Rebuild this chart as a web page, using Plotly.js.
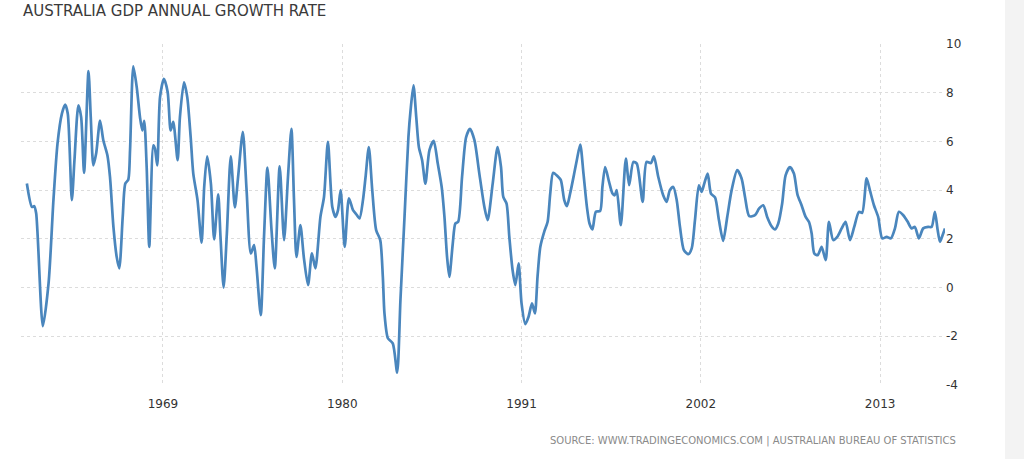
<!DOCTYPE html>
<html>
<head>
<meta charset="utf-8">
<script src="https://cdn.plot.ly/plotly-3.0.1.min.js"></script>
<style>
  html, body { margin: 0; padding: 0; background: #ffffff; }
  #chart { width: 1024px; height: 459px; }
</style>
</head>
<body>
<div id="chart"></div>
<script>
// Decimal years of the traced vertices
const years = [
  1960.65, 1960.96, 1961.10, 1961.22, 1961.63, 1961.98, 1962.28, 1962.53, 1962.80, 1963.00,
  1963.16, 1963.41, 1963.57, 1963.81, 1963.98, 1964.16, 1964.43, 1964.57, 1964.73, 1964.90,
  1965.14, 1965.34, 1965.59, 1965.75, 1965.96, 1966.16, 1966.32, 1966.53, 1966.69, 1966.87,
  1966.98, 1967.18, 1967.39, 1967.59, 1967.73, 1967.85, 1968.00, 1968.16, 1968.41, 1968.51,
  1968.65, 1968.82, 1969.06, 1969.29, 1969.47, 1969.63, 1969.90,
  1970.04, 1970.29, 1970.49, 1970.70, 1970.86, 1971.12, 1971.37, 1971.53, 1971.71, 1971.94,
  1972.14, 1972.39, 1972.53, 1972.72, 1972.92, 1973.16, 1973.41, 1973.61, 1973.90, 1974.13,
  1974.39, 1974.59, 1974.74, 1975.00, 1975.20, 1975.41, 1975.66, 1975.86, 1976.16, 1976.43,
  1976.67, 1976.88, 1977.04, 1977.19, 1977.43, 1977.65, 1977.90, 1978.14, 1978.35, 1978.66,
  1978.88, 1979.12,
  1979.39, 1979.59, 1979.74, 1979.90, 1980.15, 1980.41, 1980.66, 1980.86, 1981.06, 1981.27,
  1981.43, 1981.63, 1981.84, 1982.08, 1982.33, 1982.49, 1982.59, 1982.80, 1983.10, 1983.37,
  1983.57, 1983.82, 1984.06, 1984.19, 1984.37, 1984.54, 1984.70, 1984.90, 1985.10, 1985.35,
  1985.61, 1985.86, 1986.10, 1986.27, 1986.43, 1986.57, 1986.78, 1986.94, 1987.11, 1987.35,
  1987.60, 1987.84, 1988.11, 1988.41, 1988.72, 1988.92,
  1989.23, 1989.53, 1989.74, 1989.88, 1990.08, 1990.25, 1990.45, 1990.62, 1990.82, 1991.00,
  1991.23, 1991.43, 1991.64, 1991.82, 1991.98, 1992.15, 1992.39, 1992.60, 1992.76, 1992.94,
  1993.21, 1993.41, 1993.62, 1993.78, 1993.98, 1994.23, 1994.39, 1994.60, 1994.80, 1995.01,
  1995.17, 1995.35, 1995.56, 1995.82, 1995.96, 1996.13, 1996.37, 1996.58, 1996.72, 1996.84,
  1997.09, 1997.40, 1997.60, 1997.86, 1998.07,
  1998.43, 1998.67, 1998.94, 1999.12, 1999.39, 1999.69, 1999.90, 2000.10, 2000.31, 2000.52,
  2000.72, 2000.96, 2001.23, 2001.44, 2001.64, 2001.88, 2002.05, 2002.21, 2002.42, 2002.62,
  2002.87, 2003.11, 2003.37, 2003.62, 2003.89, 2004.23, 2004.50, 2004.71, 2004.97, 2005.32,
  2005.58, 2005.83, 2006.07, 2006.34, 2006.55, 2006.75, 2006.99, 2007.20, 2007.47, 2007.71,
  2007.93, 2008.18, 2008.43, 2008.63, 2008.80, 2008.96, 2009.17, 2009.41, 2009.66, 2009.86,
  2010.12, 2010.37, 2010.64, 2010.88, 2011.15, 2011.41, 2011.70, 2011.90, 2012.17, 2012.37,
  2012.62, 2012.88, 2013.13, 2013.40, 2013.66, 2013.91, 2014.15, 2014.42, 2014.69, 2014.93,
  2015.13, 2015.38, 2015.64, 2015.95, 2016.16, 2016.36, 2016.53, 2016.67, 2016.83, 2016.98
];

// GDP annual growth rate (%)
const gdpGrowth = [
  4.27, 3.31, 3.34, 3.05, -1.58, 0.17, 3.59, 5.91, 7.14, 7.51,
  7.14, 3.59, 5.23, 7.48, 7.00, 4.71, 8.89, 7.00, 5.02, 5.50,
  6.86, 6.05, 5.43, 4.54, 2.49, 1.26, 0.79, 2.90, 4.27, 4.43,
  5.64, 9.08, 8.23, 7.00, 6.45, 6.84, 4.95, 1.67, 5.84, 5.70,
  5.02, 7.82, 8.57, 8.02, 6.45, 6.80, 5.23,
  7.00, 8.43, 7.82, 6.18, 4.68, 3.59, 1.84, 4.13, 5.39, 4.27,
  1.98, 3.83, 2.08, 0.00, 2.22, 5.39, 3.29, 4.54, 6.39, 4.00,
  1.40, 1.74, 0.85, -1.13, 2.08, 4.93, 2.36, 0.79, 4.98, 1.95,
  4.54, 6.52, 3.59, 1.26, 2.56, 1.20, 0.10, 1.40, 0.79, 2.90,
  3.72, 5.98,
  3.31, 2.90, 3.18, 4.00, 1.67, 3.66, 3.18, 3.01, 2.84, 3.59,
  4.54, 5.77, 4.00, 2.36, 1.95, 0.44, -1.06, -2.08, -2.29, -3.49,
  -0.51, 2.90, 6.18, 7.27, 8.30, 7.00, 5.77, 5.23, 4.27, 5.64,
  6.02, 5.09, 4.13, 2.90, 1.26, 0.44, 1.81, 2.63, 2.70, 4.54,
  6.18, 6.52, 6.05, 4.68, 3.31, 2.77,
  4.27, 5.77, 4.95, 3.72, 3.45, 2.08, 0.72, 0.10, 0.99, -0.65,
  -1.50, -1.20, -0.65, -1.06, 0.44, 1.67, 2.29, 2.70, 3.86, 4.71,
  4.57, 4.41, 3.59, 3.34, 3.86, 4.68, 5.23, 5.87, 4.68, 3.31,
  2.63, 2.39, 3.11, 3.14, 4.13, 4.95, 4.34, 3.86, 3.79, 4.00,
  2.56, 5.30, 4.20, 5.16, 5.09,
  3.52, 5.16, 5.11, 5.39, 4.54, 3.79, 3.52, 4.00, 4.13, 3.59,
  2.49, 1.54, 1.37, 1.61, 2.77, 4.20, 3.93, 4.27, 4.68, 3.86,
  3.70, 2.77, 1.92, 2.90, 4.00, 4.82, 4.48, 3.72, 2.93, 2.97,
  3.25, 3.38, 2.90, 2.52, 2.39, 2.63, 3.45, 4.61, 4.95, 4.68,
  3.82, 3.38, 2.90, 2.70, 2.22, 1.40, 1.33, 1.67, 1.13, 2.70,
  1.95, 2.08, 2.43, 2.70, 1.95, 2.49, 3.11, 3.07, 4.48, 4.00,
  3.38, 2.90, 2.02, 2.08, 2.02, 2.43, 3.11, 2.97, 2.70, 2.43,
  2.49, 2.02, 2.43, 2.49, 2.49, 3.11, 2.36, 1.88, 2.15, 2.43
];

const xTickVals = [1969, 1980, 1991, 2002, 2013];
const xTickText = ['1969', '1980', '1991', '2002', '2013'];
const yTickVals = [-4, -2, 0, 2, 4, 6, 8, 10];
const yTickText = ['-4', '-2', '0', '2', '4', '6', '8', '10'];

const trace = {
  x: years,
  y: gdpGrowth,
  type: 'scatter',
  mode: 'lines',
  line: { color: '#4a86bd', width: 2.7, shape: 'spline', smoothing: 0.7 },
  hoverinfo: 'x+y'
};

const layout = {
  width: 1024,
  height: 459,
  margin: { l: 21, r: 79, t: 44, b: 74 },
  paper_bgcolor: '#ffffff',
  plot_bgcolor: '#ffffff',
  showlegend: false,
  font: { family: 'DejaVu Sans, Verdana, sans-serif', color: '#333333', size: 12 },
  title: {
    text: 'AUSTRALIA GDP ANNUAL GROWTH RATE',
    font: { family: 'DejaVu Sans, Verdana, sans-serif', size: 15, color: '#3a3a3a' },
    xref: 'container', yref: 'container',
    x: 23 / 1024, xanchor: 'left',
    y: 1 - 11 / 459, yanchor: 'middle'
  },
  xaxis: {
    range: [1960.29, 2016.98],
    tickmode: 'array',
    tickvals: xTickVals,
    ticktext: xTickText,
    showgrid: true,
    gridcolor: '#dcdcdc',
    griddash: 'dot',
    gridwidth: 1,
    zeroline: false,
    showline: false,
    ticks: '',
    ticklabelstandoff: 10,
    tickfont: { size: 12, color: '#333333' }
  },
  yaxis: {
    side: 'right',
    range: [-4, 10],
    tickmode: 'array',
    tickvals: yTickVals,
    ticktext: yTickText,
    showgrid: true,
    gridcolor: '#dcdcdc',
    griddash: 'dot',
    gridwidth: 1,
    zeroline: false,
    showline: false,
    ticks: '',
    tickfont: { size: 12, color: '#333333' }
  },
  annotations: [{
    text: 'SOURCE: WWW.TRADINGECONOMICS.COM | AUSTRALIAN BUREAU OF STATISTICS',
    xref: 'paper', yref: 'paper',
    x: (958 - 21) / 924, xanchor: 'right',
    y: (385 - 441) / 341, yanchor: 'middle',
    showarrow: false,
    font: { family: 'DejaVu Sans, Verdana, sans-serif', size: 10, color: '#8a8a8a' }
  }],
  shapes: [{
    type: 'rect', xref: 'paper', yref: 'paper',
    x0: (1005 - 21) / 924, x1: (1024 - 21) / 924,
    y0: (385 - 459) / 341, y1: (385 - 0) / 341,
    fillcolor: '#f3f3f3', line: { width: 0 }, layer: 'below'
  }]
};

Plotly.newPlot('chart', [trace], layout, { displayModeBar: false, staticPlot: true });
</script>
</body>
</html>
